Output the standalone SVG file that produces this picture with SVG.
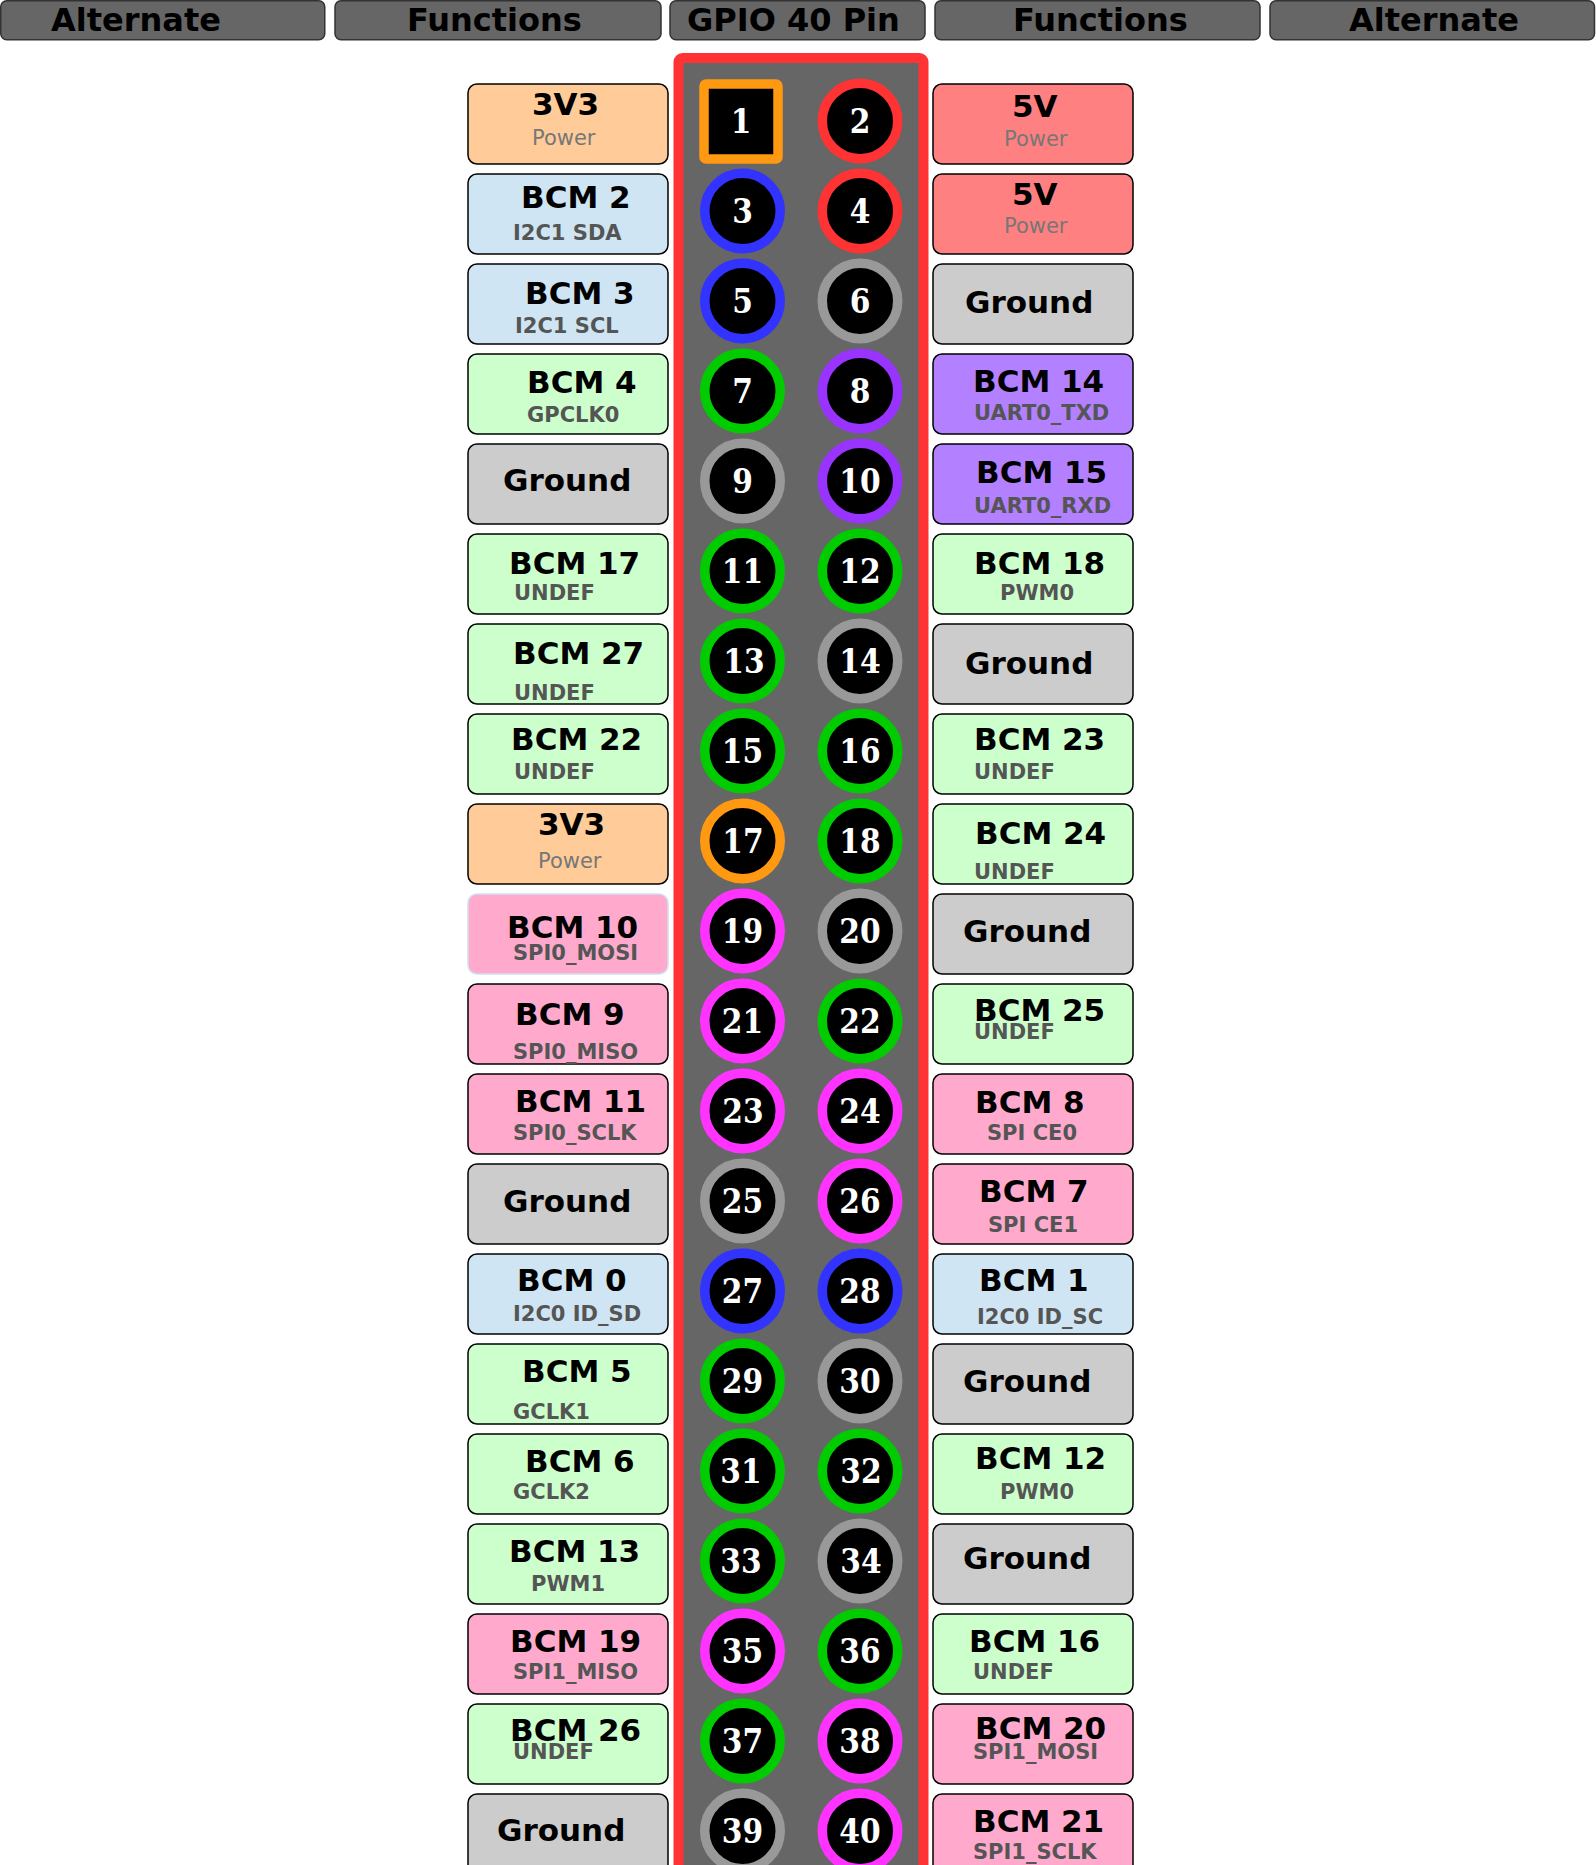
<svg xmlns="http://www.w3.org/2000/svg" width="1596" height="1865" viewBox="0 0 1596 1865">
<style>
.hb{fill:#666666;stroke:#333333;stroke-width:1.5}
.ht{font-family:"DejaVu Sans",sans-serif;font-weight:bold;font-size:32px;fill:#000}
.bx{stroke:#000;stroke-width:1.5}
.p3{fill:#ffcc99}.p5{fill:#ff8080}.i2c{fill:#cfe5f3}.gnd{fill:#cccccc}.gp{fill:#ccffcc}.ua{fill:#b380ff}.sp{fill:#ffaacc}
.mt{font-family:"DejaVu Sans",sans-serif;font-weight:bold;font-size:31px;fill:#000}
.st{font-family:"DejaVu Sans",sans-serif;font-weight:bold;font-size:21px;fill:#555555}
.pw{font-family:"DejaVu Sans",sans-serif;font-size:21px;fill:#777777}
.pin{fill:#000;stroke-width:9.5}
.pn{font-family:"DejaVu Serif Condensed","DejaVu Serif",serif;font-stretch:condensed;font-weight:bold;font-size:33px;fill:#fff;text-anchor:middle}
.cr{stroke:#ff3333}.co{stroke:#ff9911}.cb{stroke:#3333ff}.cg{stroke:#999999}.cgr{stroke:#00cc00}.cpu{stroke:#9933ff}.cm{stroke:#ff33ff}
</style>
<g id="header">
<rect class="hb" x="0.75" y="0.75" width="324" height="39" rx="6"/>
<rect class="hb" x="335" y="0.75" width="326" height="39" rx="6"/>
<rect class="hb" x="670" y="0.75" width="255" height="39" rx="6"/>
<rect class="hb" x="935" y="0.75" width="325" height="39" rx="6"/>
<rect class="hb" x="1270" y="0.75" width="324.5" height="39" rx="6"/>
<text class="ht" x="51" y="31">Alternate</text>
<text class="ht" x="407" y="31">Functions</text>
<text class="ht" x="687" y="31">GPIO 40 Pin</text>
<text class="ht" x="1013" y="31">Functions</text>
<text class="ht" x="1349" y="31">Alternate</text>
</g>
<g id="header-panel">
<rect x="678.5" y="58" width="245" height="1850" rx="4" fill="#666666" stroke="#ff3333" stroke-width="10"/>
</g>
<g id="pins">
<g id="pin1"><rect class="pin co" x="704" y="84" width="74" height="75" rx="2"/><text class="pn" x="741" y="133">1</text></g>
<g id="pin2"><circle class="pin cr" cx="860" cy="121" r="37.75"/><text class="pn" x="860" y="133">2</text></g>
<g id="pin3"><circle class="pin cb" cx="742.5" cy="211" r="37.75"/><text class="pn" x="742.5" y="223">3</text></g>
<g id="pin4"><circle class="pin cr" cx="860" cy="211" r="37.75"/><text class="pn" x="860" y="223">4</text></g>
<g id="pin5"><circle class="pin cb" cx="742.5" cy="301" r="37.75"/><text class="pn" x="742.5" y="313">5</text></g>
<g id="pin6"><circle class="pin cg" cx="860" cy="301" r="37.75"/><text class="pn" x="860" y="313">6</text></g>
<g id="pin7"><circle class="pin cgr" cx="742.5" cy="391" r="37.75"/><text class="pn" x="742.5" y="403">7</text></g>
<g id="pin8"><circle class="pin cpu" cx="860" cy="391" r="37.75"/><text class="pn" x="860" y="403">8</text></g>
<g id="pin9"><circle class="pin cg" cx="742.5" cy="481" r="37.75"/><text class="pn" x="742.5" y="493">9</text></g>
<g id="pin10"><circle class="pin cpu" cx="860" cy="481" r="37.75"/><text class="pn" x="860" y="493">10</text></g>
<g id="pin11"><circle class="pin cgr" cx="742.5" cy="571" r="37.75"/><text class="pn" x="742.5" y="583">11</text></g>
<g id="pin12"><circle class="pin cgr" cx="860" cy="571" r="37.75"/><text class="pn" x="860" y="583">12</text></g>
<g id="pin13"><circle class="pin cgr" cx="742.5" cy="661" r="37.75"/><text class="pn" x="744" y="673">13</text></g>
<g id="pin14"><circle class="pin cg" cx="860" cy="661" r="37.75"/><text class="pn" x="860" y="673">14</text></g>
<g id="pin15"><circle class="pin cgr" cx="742.5" cy="751" r="37.75"/><text class="pn" x="742.5" y="763">15</text></g>
<g id="pin16"><circle class="pin cgr" cx="860" cy="751" r="37.75"/><text class="pn" x="860" y="763">16</text></g>
<g id="pin17"><circle class="pin co" cx="742.5" cy="841" r="37.75"/><text class="pn" x="743" y="853">17</text></g>
<g id="pin18"><circle class="pin cgr" cx="860" cy="841" r="37.75"/><text class="pn" x="860" y="853">18</text></g>
<g id="pin19"><circle class="pin cm" cx="742.5" cy="931" r="37.75"/><text class="pn" x="742.5" y="943">19</text></g>
<g id="pin20"><circle class="pin cg" cx="860" cy="931" r="37.75"/><text class="pn" x="860" y="943">20</text></g>
<g id="pin21"><circle class="pin cm" cx="742.5" cy="1021" r="37.75"/><text class="pn" x="742.5" y="1033">21</text></g>
<g id="pin22"><circle class="pin cgr" cx="860" cy="1021" r="37.75"/><text class="pn" x="860" y="1033">22</text></g>
<g id="pin23"><circle class="pin cm" cx="742.5" cy="1111" r="37.75"/><text class="pn" x="743" y="1123">23</text></g>
<g id="pin24"><circle class="pin cm" cx="860" cy="1111" r="37.75"/><text class="pn" x="860" y="1123">24</text></g>
<g id="pin25"><circle class="pin cg" cx="742.5" cy="1201" r="37.75"/><text class="pn" x="742.5" y="1213">25</text></g>
<g id="pin26"><circle class="pin cm" cx="860" cy="1201" r="37.75"/><text class="pn" x="860" y="1213">26</text></g>
<g id="pin27"><circle class="pin cb" cx="742.5" cy="1291" r="37.75"/><text class="pn" x="742.5" y="1303">27</text></g>
<g id="pin28"><circle class="pin cb" cx="860" cy="1291" r="37.75"/><text class="pn" x="860" y="1303">28</text></g>
<g id="pin29"><circle class="pin cgr" cx="742.5" cy="1381" r="37.75"/><text class="pn" x="742.5" y="1393">29</text></g>
<g id="pin30"><circle class="pin cg" cx="860" cy="1381" r="37.75"/><text class="pn" x="860" y="1393">30</text></g>
<g id="pin31"><circle class="pin cgr" cx="742.5" cy="1471" r="37.75"/><text class="pn" x="741" y="1483">31</text></g>
<g id="pin32"><circle class="pin cgr" cx="860" cy="1471" r="37.75"/><text class="pn" x="861" y="1483">32</text></g>
<g id="pin33"><circle class="pin cgr" cx="742.5" cy="1561" r="37.75"/><text class="pn" x="741" y="1573">33</text></g>
<g id="pin34"><circle class="pin cg" cx="860" cy="1561" r="37.75"/><text class="pn" x="861" y="1573">34</text></g>
<g id="pin35"><circle class="pin cm" cx="742.5" cy="1651" r="37.75"/><text class="pn" x="742.5" y="1663">35</text></g>
<g id="pin36"><circle class="pin cgr" cx="860" cy="1651" r="37.75"/><text class="pn" x="860" y="1663">36</text></g>
<g id="pin37"><circle class="pin cgr" cx="742.5" cy="1741" r="37.75"/><text class="pn" x="742.5" y="1753">37</text></g>
<g id="pin38"><circle class="pin cm" cx="860" cy="1741" r="37.75"/><text class="pn" x="860" y="1753">38</text></g>
<g id="pin39"><circle class="pin cg" cx="742.5" cy="1831" r="37.75"/><text class="pn" x="742.5" y="1843">39</text></g>
<g id="pin40"><circle class="pin cm" cx="860" cy="1831" r="37.75"/><text class="pn" x="860" y="1843">40</text></g>
</g>
<g id="left-labels">
<g id="L1"><rect class="bx p3" x="468" y="84" width="200" height="80" rx="9"/><text class="mt" x="532" y="115">3V3</text><text class="pw" x="532" y="145">Power</text></g>
<g id="L3"><rect class="bx i2c" x="468" y="174" width="200" height="80" rx="9"/><text class="mt" x="521" y="208">BCM 2</text><text class="st" x="513" y="240">I2C1 SDA</text></g>
<g id="L5"><rect class="bx i2c" x="468" y="264" width="200" height="80" rx="9"/><text class="mt" x="525" y="304">BCM 3</text><text class="st" x="515" y="333">I2C1 SCL</text></g>
<g id="L7"><rect class="bx gp" x="468" y="354" width="200" height="80" rx="9"/><text class="mt" x="527" y="393">BCM 4</text><text class="st" x="527" y="422">GPCLK0</text></g>
<g id="L9"><rect class="bx gnd" x="468" y="444" width="200" height="80" rx="9"/><text class="mt" x="503" y="491">Ground</text></g>
<g id="L11"><rect class="bx gp" x="468" y="534" width="200" height="80" rx="9"/><text class="mt" x="509" y="574">BCM 17</text><text class="st" x="514" y="600">UNDEF</text></g>
<g id="L13"><rect class="bx gp" x="468" y="624" width="200" height="80" rx="9"/><text class="mt" x="513" y="664">BCM 27</text><text class="st" x="514" y="700">UNDEF</text></g>
<g id="L15"><rect class="bx gp" x="468" y="714" width="200" height="80" rx="9"/><text class="mt" x="511" y="750">BCM 22</text><text class="st" x="514" y="779">UNDEF</text></g>
<g id="L17"><rect class="bx p3" x="468" y="804" width="200" height="80" rx="9"/><text class="mt" x="538" y="835">3V3</text><text class="pw" x="538" y="868">Power</text></g>
<g id="L19"><rect class="sp" x="468" y="894" width="200" height="80" rx="9" stroke="#cfe0f0" stroke-width="1.5"/><text class="mt" x="507" y="938">BCM 10</text><text class="st" x="513" y="960">SPI0_MOSI</text></g>
<g id="L21"><rect class="bx sp" x="468" y="984" width="200" height="80" rx="9"/><text class="mt" x="515" y="1025">BCM 9</text><text class="st" x="513" y="1059">SPI0_MISO</text></g>
<g id="L23"><rect class="bx sp" x="468" y="1074" width="200" height="80" rx="9"/><text class="mt" x="515" y="1112">BCM 11</text><text class="st" x="513" y="1140">SPI0_SCLK</text></g>
<g id="L25"><rect class="bx gnd" x="468" y="1164" width="200" height="80" rx="9"/><text class="mt" x="503" y="1212">Ground</text></g>
<g id="L27"><rect class="bx i2c" x="468" y="1254" width="200" height="80" rx="9"/><text class="mt" x="517" y="1291">BCM 0</text><text class="st" x="513" y="1321">I2C0 ID_SD</text></g>
<g id="L29"><rect class="bx gp" x="468" y="1344" width="200" height="80" rx="9"/><text class="mt" x="522" y="1382">BCM 5</text><text class="st" x="513" y="1419">GCLK1</text></g>
<g id="L31"><rect class="bx gp" x="468" y="1434" width="200" height="80" rx="9"/><text class="mt" x="525" y="1472">BCM 6</text><text class="st" x="513" y="1499">GCLK2</text></g>
<g id="L33"><rect class="bx gp" x="468" y="1524" width="200" height="80" rx="9"/><text class="mt" x="509" y="1562">BCM 13</text><text class="st" x="531" y="1591">PWM1</text></g>
<g id="L35"><rect class="bx sp" x="468" y="1614" width="200" height="80" rx="9"/><text class="mt" x="510" y="1652">BCM 19</text><text class="st" x="513" y="1679">SPI1_MISO</text></g>
<g id="L37"><rect class="bx gp" x="468" y="1704" width="200" height="80" rx="9"/><text class="mt" x="510" y="1741">BCM 26</text><text class="st" x="513" y="1759">UNDEF</text></g>
<g id="L39"><rect class="bx gnd" x="468" y="1794" width="200" height="80" rx="9"/><text class="mt" x="497" y="1841">Ground</text></g>
</g>
<g id="right-labels">
<g id="R2"><rect class="bx p5" x="933" y="84" width="200" height="80" rx="9"/><text class="mt" x="1012" y="117">5V</text><text class="pw" x="1004" y="146">Power</text></g>
<g id="R4"><rect class="bx p5" x="933" y="174" width="200" height="80" rx="9"/><text class="mt" x="1012" y="205">5V</text><text class="pw" x="1004" y="233">Power</text></g>
<g id="R6"><rect class="bx gnd" x="933" y="264" width="200" height="80" rx="9"/><text class="mt" x="965" y="313">Ground</text></g>
<g id="R8"><rect class="bx ua" x="933" y="354" width="200" height="80" rx="9"/><text class="mt" x="973" y="392">BCM 14</text><text class="st" x="974" y="420">UART0_TXD</text></g>
<g id="R10"><rect class="bx ua" x="933" y="444" width="200" height="80" rx="9"/><text class="mt" x="976" y="483">BCM 15</text><text class="st" x="974" y="513">UART0_RXD</text></g>
<g id="R12"><rect class="bx gp" x="933" y="534" width="200" height="80" rx="9"/><text class="mt" x="974" y="574">BCM 18</text><text class="st" x="1000" y="600">PWM0</text></g>
<g id="R14"><rect class="bx gnd" x="933" y="624" width="200" height="80" rx="9"/><text class="mt" x="965" y="674">Ground</text></g>
<g id="R16"><rect class="bx gp" x="933" y="714" width="200" height="80" rx="9"/><text class="mt" x="974" y="750">BCM 23</text><text class="st" x="974" y="779">UNDEF</text></g>
<g id="R18"><rect class="bx gp" x="933" y="804" width="200" height="80" rx="9"/><text class="mt" x="975" y="844">BCM 24</text><text class="st" x="974" y="879">UNDEF</text></g>
<g id="R20"><rect class="bx gnd" x="933" y="894" width="200" height="80" rx="9"/><text class="mt" x="963" y="942">Ground</text></g>
<g id="R22"><rect class="bx gp" x="933" y="984" width="200" height="80" rx="9"/><text class="mt" x="974" y="1021">BCM 25</text><text class="st" x="974" y="1039">UNDEF</text></g>
<g id="R24"><rect class="bx sp" x="933" y="1074" width="200" height="80" rx="9"/><text class="mt" x="975" y="1113">BCM 8</text><text class="st" x="987" y="1140">SPI CE0</text></g>
<g id="R26"><rect class="bx sp" x="933" y="1164" width="200" height="80" rx="9"/><text class="mt" x="979" y="1202">BCM 7</text><text class="st" x="988" y="1232">SPI CE1</text></g>
<g id="R28"><rect class="bx i2c" x="933" y="1254" width="200" height="80" rx="9"/><text class="mt" x="979" y="1291">BCM 1</text><text class="st" x="977" y="1324">I2C0 ID_SC</text></g>
<g id="R30"><rect class="bx gnd" x="933" y="1344" width="200" height="80" rx="9"/><text class="mt" x="963" y="1392">Ground</text></g>
<g id="R32"><rect class="bx gp" x="933" y="1434" width="200" height="80" rx="9"/><text class="mt" x="975" y="1469">BCM 12</text><text class="st" x="1000" y="1499">PWM0</text></g>
<g id="R34"><rect class="bx gnd" x="933" y="1524" width="200" height="80" rx="9"/><text class="mt" x="963" y="1569">Ground</text></g>
<g id="R36"><rect class="bx gp" x="933" y="1614" width="200" height="80" rx="9"/><text class="mt" x="969" y="1652">BCM 16</text><text class="st" x="973" y="1679">UNDEF</text></g>
<g id="R38"><rect class="bx sp" x="933" y="1704" width="200" height="80" rx="9"/><text class="mt" x="975" y="1739">BCM 20</text><text class="st" x="973" y="1759">SPI1_MOSI</text></g>
<g id="R40"><rect class="bx sp" x="933" y="1794" width="200" height="80" rx="9"/><text class="mt" x="973" y="1832">BCM 21</text><text class="st" x="973" y="1859">SPI1_SCLK</text></g>
</g>
</svg>
